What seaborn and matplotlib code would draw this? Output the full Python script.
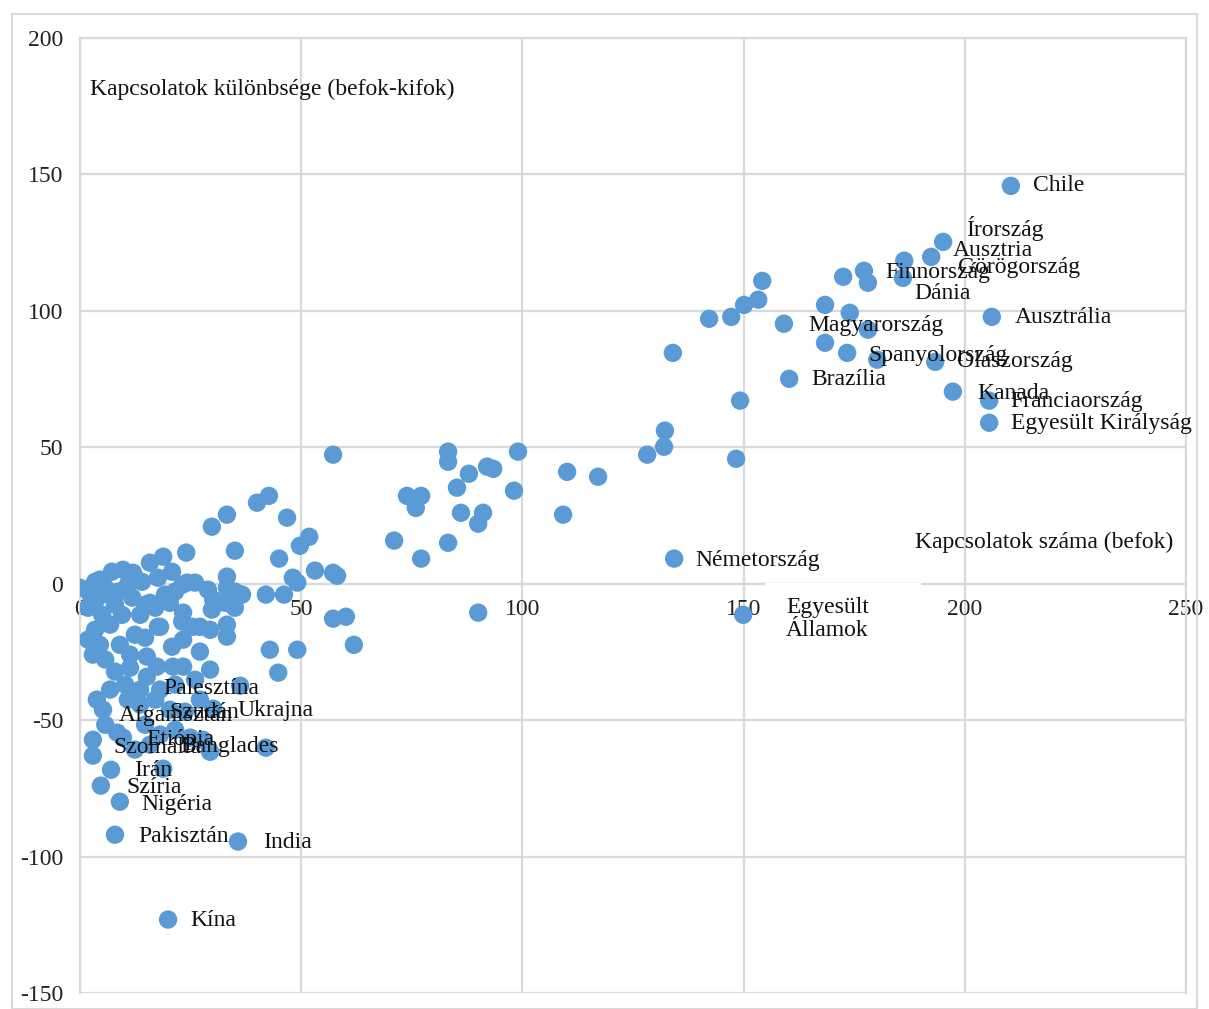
import matplotlib.pyplot as plt
import seaborn as sns
import pandas as pd
from matplotlib.patches import Rectangle

# befok (x) and befok-kifok (y)
befok = [
    210.4, 195.1, 192.4, 186.3, 186.0, 177.2, 178.1, 172.5, 168.4, 174.0,
    178.1, 168.4, 173.4, 180.2, 193.3, 197.3, 206.1, 205.5, 205.5, 154.2,
    153.3, 150.1, 147.2, 142.2, 159.1, 160.3, 149.2, 134.0, 132.2, 132.0,
    128.2, 148.3, 134.3, 149.9,
    83.2, 83.2, 99.0, 87.9, 92.0, 93.4, 110.1, 117.1, 85.2, 98.1,
    73.9, 77.1, 75.9, 86.1, 91.1, 90.0, 109.2, 71.0, 83.2, 77.1,
    90.0, 57.2,
    42.7, 40.0, 33.2, 29.8, 46.8, 51.8, 49.7, 35.0, 45.0, 53.1,
    57.2, 58.1, 48.1, 49.1, 42.0, 46.1, 57.2, 60.1, 61.9, 42.9,
    49.1, 44.8, 36.2, 30.1, 42.0, 29.4, 27.8, 35.7, 19.9, 18.8,
    7.9, 9.0, 4.7, 7.0, 2.9, 2.9,
    0.0, 3.4, 7.2, 9.7, 12.0, 15.8, 18.8, 24.0, 20.8, 17.6,
    14.0, 10.8, 8.6, 6.3, 3.4, 1.8, 5.0, 7.9, 11.8, 14.7,
    17.0, 19.2, 21.5, 23.1, 12.4, 17.6, 23.1, 24.2, 26.0, 28.9,
    30.1, 29.8, 33.2, 33.2, 35.0, 36.6, 32.8, 35.0, 23.3, 25.5,
    27.1, 29.4, 33.2, 33.2, 23.3, 27.1, 23.3, 20.8, 18.1, 15.1,
    14.7, 21.0, 17.4, 15.1, 15.8, 4.5, 5.7, 2.3, 9.5, 6.8,
    3.4, 1.8, 2.9, 9.0, 5.7, 7.9, 11.3, 10.2, 13.6, 18.1,
    21.5, 17.0, 20.3, 23.7, 13.6, 10.8, 6.8, 3.8, 5.2, 5.7,
    8.4, 9.7, 14.7, 18.1, 21.5, 24.9, 15.8, 12.4, 27.1, 26.0,
    29.4, 4.5, 11.3, 13.6, 20.3,
]
kulonbseg = [
    145.8, 125.3, 119.8, 118.4, 112.1, 114.7, 110.3, 112.5, 102.2, 99.3,
    93.1, 88.3, 84.6, 82.1, 81.3, 70.4, 97.8, 67.1, 59.0, 111.0,
    104.1, 102.2, 97.8, 97.1, 95.3, 75.1, 67.1, 84.6, 56.1, 50.2,
    47.3, 45.8, 9.2, -11.4,
    48.4, 44.7, 48.4, 40.3, 42.9, 42.1, 41.0, 39.2, 35.2, 34.1,
    32.2, 32.2, 27.8, 26.0, 26.0, 22.0, 25.3, 15.8, 15.0, 9.2,
    -10.6, 47.3,
    32.2, 29.7, 25.3, 20.9, 24.2, 17.2, 13.9, 12.1, 9.2, 4.8,
    4.0, 2.9, 2.2, 0.4, -4.0, -4.0, -12.8, -12.1, -22.4, -24.2,
    -24.2, -32.6, -37.4, -45.8, -60.1, -61.6, -57.2, -94.5, -123.1, -67.8,
    -92.0, -79.9, -74.0, -68.2, -63.0, -57.2,
    -1.5, 0.7, 4.4, 5.1, 4.0, 7.7, 9.9, 11.4, 4.4, 2.2,
    0.7, -0.4, -2.9, -4.0, -6.6, -8.8, -11.4, -7.7, -5.1, -7.7,
    -8.8, -4.0, -2.9, -0.4, -18.7, -15.8, -13.9, 0.4, 0.4, -2.2,
    -5.9, -9.5, 2.6, -1.5, -2.9, -4.0, -7.0, -8.8, -10.6, -15.8,
    -15.8, -16.9, -15.0, -19.4, -20.5, -24.9, -30.4, -23.1, -15.8, -26.7,
    -19.8, -30.4, -30.4, -34.1, -7.0, 1.5, -1.5, -4.0, -11.4, -15.0,
    -16.9, -20.5, -26.0, -22.4, -27.8, -32.2, -30.8, -37.0, -38.8, -38.8,
    -37.0, -42.5, -46.2, -46.9, -44.3, -42.5, -38.8, -42.5, -46.2, -51.7,
    -54.6, -56.4, -51.7, -55.3, -53.5, -56.4, -59.0, -60.8, -42.5, -35.2,
    -31.5, -22.4, -26.0, -11.4, -7.0,
]

# country labels and where they sit
orszagok = ["Chile", "Írország", "Ausztria", "Görögország", "Finnország", "Dánia",
            "Ausztrália", "Magyarország", "Spanyolország", "Olaszország", "Brazília",
            "Kanada", "Franciaország", "Egyesült Királyság", "Németország",
            "Palesztína", "Szudán", "Ukrajna", "Afganisztán", "Etiópia", "Szomália",
            "Banglades", "Irán", "Szíria", "Nigéria", "Pakisztán", "India", "Kína"]
label_x = [215.4, 200.3, 197.3, 198.5, 182.0, 188.7, 211.3, 164.6, 178.3, 198.2,
           165.2, 202.8, 210.2, 210.4, 139.0, 18.8, 20.3, 35.5, 8.8, 15.1,
           7.5, 22.6, 12.2, 10.4, 13.8, 13.1, 41.4, 24.9]
label_y = [145.8, 130.1, 122.0, 115.8, 114.0, 106.3, 97.5, 94.5, 83.5, 81.3,
           74.8, 69.6, 66.7, 58.6, 8.4, -38.5, -47.3, -46.5, -48.4, -57.2,
           -60.1, -59.7, -68.5, -74.8, -81.0, -92.7, -94.9, -123.5]

df = pd.DataFrame({"befok": befok, "kulonbseg": kulonbseg})

sns.set_style("white")
plt.rcParams["font.family"] = ["Liberation Serif", "DejaVu Serif"]
plt.rcParams["axes.unicode_minus"] = False

fig = plt.figure(figsize=(12.09, 10.09), dpi=100)
ax = fig.add_axes([0.0662, 0.0159, 0.9148, 0.9464])

sns.scatterplot(data=df, x="befok", y="kulonbseg", ax=ax, color="#5B9BD5",
                s=175, edgecolor="none", zorder=3, legend=False)

ax.set_xlim(0, 250)
ax.set_ylim(-150, 200)
ax.set_xticks([0, 50, 100, 150, 200, 250])
ax.set_yticks([-150, -100, -50, 0, 50, 100, 150, 200])
ax.grid(True, color="#D9D9D9", linewidth=1.6, zorder=0)
ax.set_axisbelow(True)
for s in ["top", "right", "left", "bottom"]:
    ax.spines[s].set_color("#D9D9D9")
    ax.spines[s].set_linewidth(1.6)
ax.spines["bottom"].set_position(("data", 0))
ax.tick_params(length=0, labelsize=17, colors="#222222")
ax.tick_params(axis="x", pad=11)
ax.tick_params(axis="y", pad=12)
ax.set_xlabel("")
ax.set_ylabel("")

# white box behind the Egyesült Államok label
ax.add_patch(Rectangle((154.8, -19), 35.3, 19.4, facecolor="white",
                       edgecolor="none", zorder=2.7))

for name, lx, ly in zip(orszagok, label_x, label_y):
    ax.text(lx, ly, name, fontsize=17, va="center", ha="left", color="#111111", zorder=4)
ax.text(159.6, -13.0, "Egyesült\nÁllamok", fontsize=17, va="center", ha="left",
        color="#111111", zorder=4, linespacing=1.15)

ax.text(2.3, 181.0, "Kapcsolatok különbsége (befok-kifok)", fontsize=17,
        va="center", ha="left", color="#111111")
ax.text(188.7, 15.0, "Kapcsolatok száma (befok)", fontsize=17,
        va="center", ha="left", color="#111111")

# light frame around the whole chart
fig.patches.append(Rectangle((0.010, 0.0), 0.980, 0.986, transform=fig.transFigure,
                             fill=False, edgecolor="#D9D9D9", linewidth=1.5))

plt.savefig("out.png", dpi=100)
